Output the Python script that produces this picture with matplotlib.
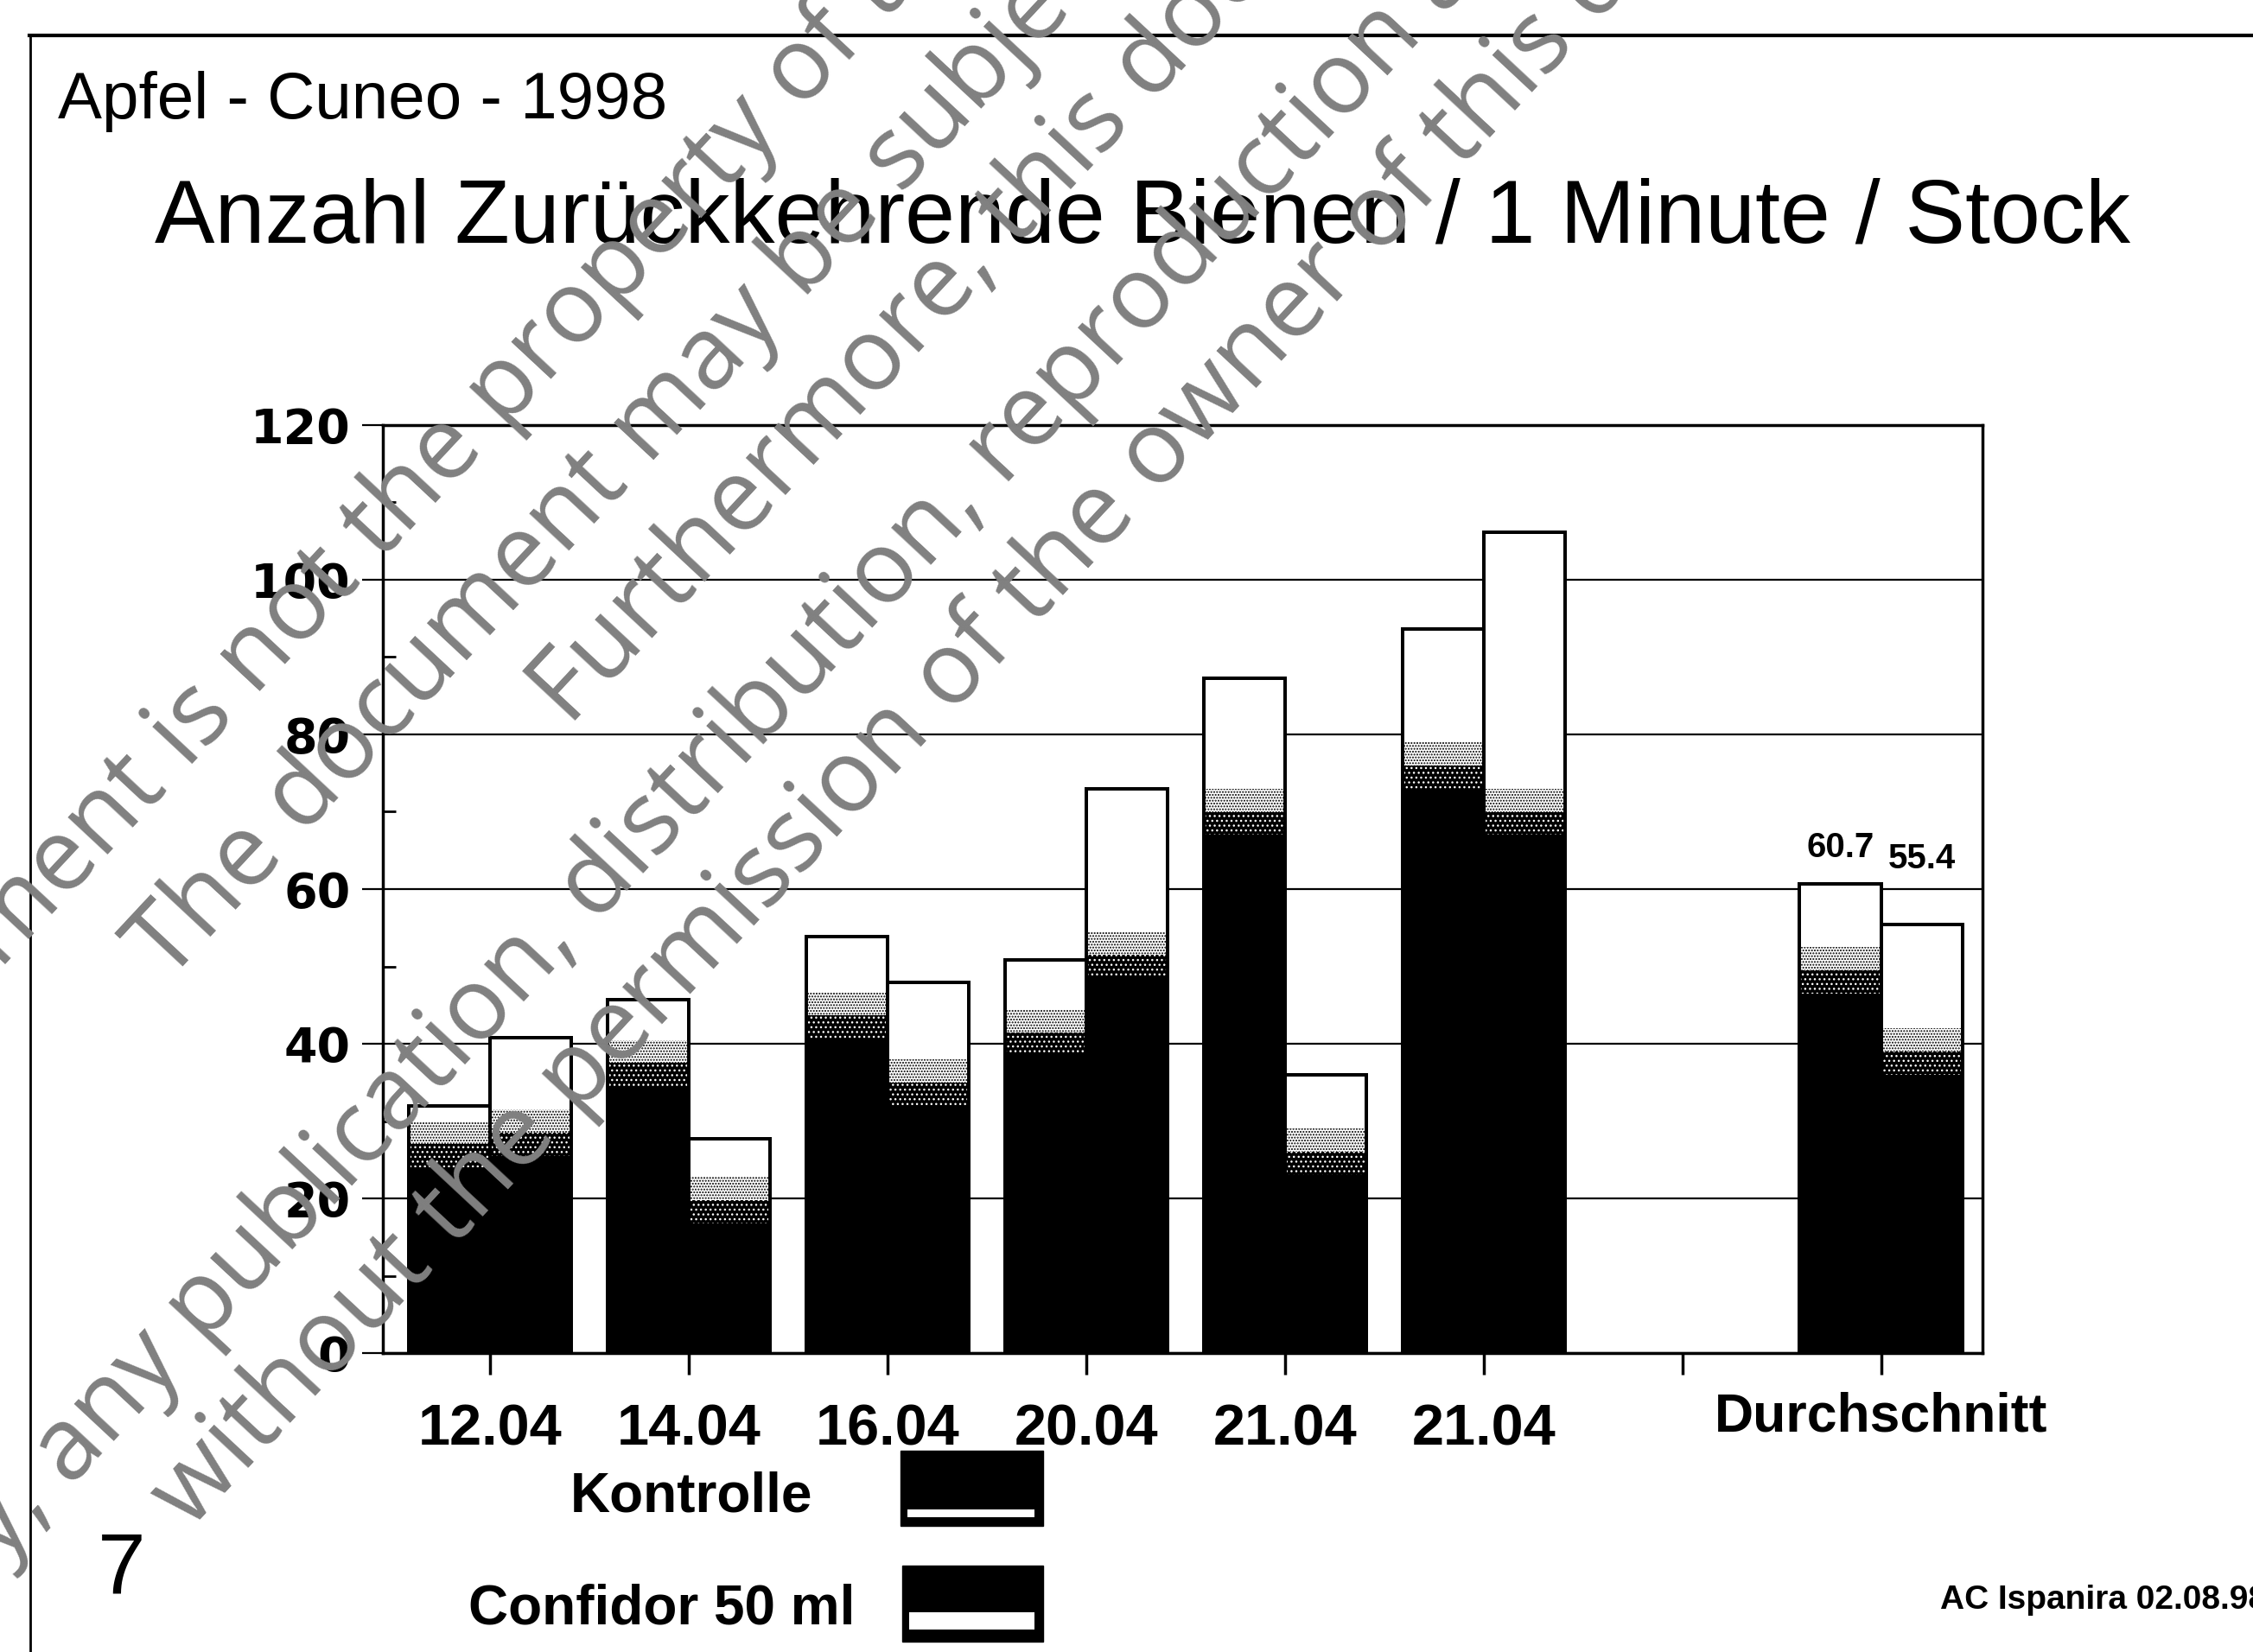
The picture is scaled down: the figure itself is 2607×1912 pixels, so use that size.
import matplotlib
matplotlib.use('Agg')
import matplotlib.pyplot as plt
import matplotlib.transforms as mtransforms
from matplotlib.patches import Rectangle
from matplotlib.lines import Line2D
from matplotlib.ticker import MultipleLocator
import numpy as np

plt.rcParams['font.family'] = 'Liberation Sans'

# data
dates = ['12.04', '14.04', '16.04', '20.04', '21.04', '21.04']
kontrolle = [32.0, 45.7, 53.8, 50.8, 87.3, 93.6]
confidor = [40.8, 27.7, 47.9, 73.0, 36.0, 106.1]
# height where the black fill of each bar ends (rest of the bar is white)
kontrolle_dark = [27.0, 37.5, 43.7, 41.5, 70.0, 76.0]
confidor_dark = [28.5, 19.8, 35.0, 51.5, 26.0, 70.0]
avg_label = 'Durchschnitt'
avg_values = [60.7, 55.4]
avg_dark = [49.5, 39.0]
series_names = ['Kontrolle', 'Confidor 50 ml']
yticks = [0, 20, 40, 60, 80, 100, 120]

W, H = 2607, 1912
def fx(px):
    return px / W
def fy(py):
    return 1 - py / H

fig = plt.figure(figsize=(W / 100, H / 100), dpi=100)
fig.patch.set_facecolor('white')

ax = fig.add_axes([fx(443), fy(1566), fx(2294) - fx(443), fy(492) - fy(1566)])

n = len(dates)
pos = np.arange(n + 2)
bar_pos = np.append(np.arange(n), n + 1)
k_vals = np.array(kontrolle + [avg_values[0]])
c_vals = np.array(confidor + [avg_values[1]])
k_dark = np.array(kontrolle_dark + [avg_dark[0]])
c_dark = np.array(confidor_dark + [avg_dark[1]])
width = 0.41

def draw_bars(centers, tops, darks):
    ax.bar(centers, tops, width=width, facecolor='white', edgecolor='black', linewidth=2.8, zorder=3)
    ax.bar(centers, darks - 3, width=width, color='black', linewidth=0, zorder=4)
    # speckled transition from black to white
    ax.bar(centers, 3, bottom=darks - 3, width=width, facecolor='black', edgecolor='white',
           hatch='...', linewidth=0, zorder=4)
    ax.bar(centers, 3, bottom=darks, width=width, facecolor='white', edgecolor='black',
           hatch='.....', linewidth=0, zorder=4)
    ax.bar(centers, tops, width=width, fill=False, edgecolor='black', linewidth=2.8, zorder=5)

draw_bars(bar_pos - width / 2, k_vals, k_dark)
draw_bars(bar_pos + width / 2, c_vals, c_dark)

# value labels over the average bars
for xx, v, off in zip([n + 1 - width / 2, n + 1 + width / 2], avg_values, [22, 47]):
    ax.annotate(f'{v:.1f}', (xx, v), xytext=(0, off), textcoords='offset points',
                ha='center', va='baseline', fontsize=29, fontweight='bold', zorder=6)

ax.set_xlim(-0.54, n + 1.51)
ax.set_ylim(0, 120)
ax.set_yticks(yticks)
ax.yaxis.set_minor_locator(MultipleLocator(10))
ax.set_xticks(pos)
ax.set_xticklabels(dates + ['', avg_label])
ax.yaxis.grid(True, color='black', linewidth=1.6)
ax.set_axisbelow(True)
for s in ax.spines.values():
    s.set_linewidth(2.5)

ax.tick_params(axis='y', which='major', direction='out', length=17, width=1.6, pad=10,
               labelsize=40)
ax.tick_params(axis='y', which='minor', direction='in', length=11, width=2)
ax.tick_params(axis='x', which='major', direction='out', length=18, width=2.5, pad=24,
               labelsize=48)
for lab in ax.get_yticklabels():
    lab.set_fontweight('bold')
    lab.set_family('DejaVu Sans')
for lab in ax.get_xticklabels():
    lab.set_fontweight('bold')
last = ax.get_xticklabels()[-1]
last.set_fontsize(45)
last.set_transform(last.get_transform() + mtransforms.ScaledTranslation(0, 10 / 72, fig.dpi_scale_trans))

# titles
fig.text(fx(67), fy(137), 'Apfel - Cuneo - 1998', fontsize=55, ha='left', va='baseline')
fig.text(fx(179), fy(281), 'Anzahl Zurückkehrende Bienen / 1 Minute / Stock', fontsize=75,
         ha='left', va='baseline')

# page frame
fig.add_artist(Line2D([fx(34), fx(W)], [fy(41), fy(41)], color='black', linewidth=3))
fig.add_artist(Line2D([fx(35), fx(35)], [fy(41), fy(H)], color='black', linewidth=2))

# legend
leg_boxes = [(1042, 1679, 1207, 1766, 1747, 1756), (1044, 1812, 1207, 1900, 1866, 1886)]
leg_text_xy = [(940, 1732), (989, 1862)]
for name, (x0, y0, x1, y1, w0, w1), (tx, ty) in zip(series_names, leg_boxes, leg_text_xy):
    fig.add_artist(Rectangle((fx(x0), fy(y1)), fx(x1) - fx(x0), fy(y0) - fy(y1),
                             transform=fig.transFigure, facecolor='black', edgecolor='black'))
    fig.add_artist(Rectangle((fx(x0 + 8), fy(w1)), fx(x1 - 10) - fx(x0 + 8), fy(w0) - fy(w1),
                             transform=fig.transFigure, facecolor='white', edgecolor='none'))
    fig.text(fx(tx), fy(ty), name, fontsize=46, fontweight='bold', ha='right', va='center')

fig.text(fx(113), fy(1845), '7', fontsize=72, ha='left', va='baseline')
fig.text(fx(2245), fy(1862), 'AC Ispanira 02.08.98', fontsize=28, fontweight='bold',
         ha='left', va='baseline')

# watermark
wm_lines = [
    ('This document is', 'not the property of the owner', (295, 807)),
    ('The', 'document may be subject to rights', (351, 968)),
    ('', 'Furthermore, this document may fall under', (659, 842)),
    ('Consequently, any publication,', 'distribution, reproduction and/or publishing', (690, 1070)),
    ('without the permission', 'of the owner of this document', (1100, 828)),
]
ang = 47
for prefix, suffix, (px, py) in wm_lines:
    kw = dict(rotation=ang, rotation_mode='anchor', va='baseline', fontsize=84,
              family='Open Sans', color='#808080', zorder=10)
    fig.text(fx(px), fy(py), suffix, ha='left', **kw)
    if prefix:
        gx = 30 * np.cos(np.radians(ang))
        gy = 30 * np.sin(np.radians(ang))
        fig.text(fx(px - gx), fy(py + gy), prefix, ha='right', **kw)

plt.savefig('out.png', dpi=100)
